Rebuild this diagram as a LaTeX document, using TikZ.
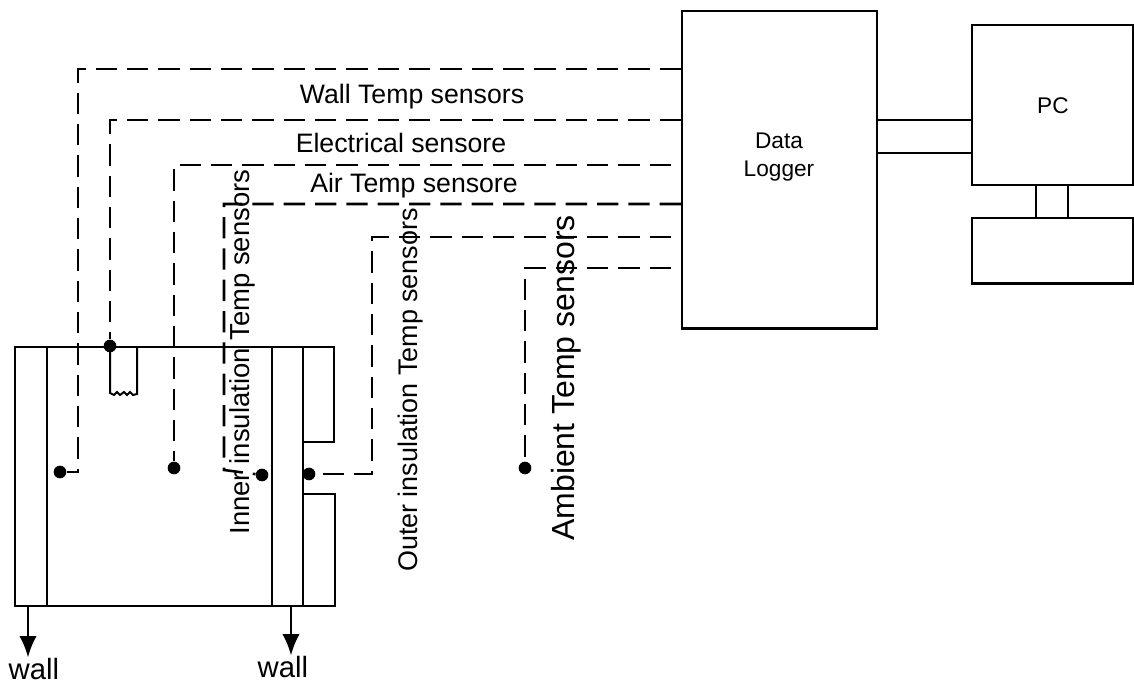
\documentclass[tikz,border=0pt]{standalone}
\usepackage{fontspec}
\setmainfont{Liberation Sans}
\usetikzlibrary{arrows.meta, positioning}

\begin{document}
\begin{tikzpicture}[
  x=0.75pt, y=-0.75pt,
  block/.style={rectangle, draw=black, line width=1.8pt, anchor=north west, inner sep=0pt},
  sensorline/.style={line width=1.9pt, dash pattern=on 16pt off 7.5pt},
  gapfirst/.style={dash phase=16pt},
  link/.style={line width=2pt},
  probe/.style={circle, fill=black, inner sep=0pt, minimum size=9.5pt},
  arrow/.style={-{Latex[length=16pt, width=13pt]}, line width=2pt, shorten >=-3pt},
  caption/.style={font=\fontsize{20}{24}\selectfont},
  upcaption/.style={font=\fontsize{20.6}{24}\selectfont, rotate=90}
]

\useasboundingbox (0,0) rectangle (1134,685);

%% --- Logger and PC ---
\node[block, minimum width=146pt, minimum height=238pt] (logger) at (681,10) {};
\node[font=\fontsize{17}{21.5}\selectfont, align=center] (loggertext) at (779,157) {Data\\Logger};
\node[block, minimum width=121pt, minimum height=120pt, text depth=-6pt,
      font=\fontsize{17}{20}\selectfont] (pc) at (971,24) {PC};
\node[block, minimum width=121pt, minimum height=49pt] (monitor) at (971,217) {};

\draw[link] (logger.east |- 0,120) -- (pc.west |- 0,120);
\draw[link] (logger.east |- 0,153) -- (pc.west |- 0,153);
\draw[link] (pc.south -| 1036,0) -- (monitor.north -| 1036,0);
\draw[link] (pc.south -| 1068,0) -- (monitor.north -| 1068,0);

%% --- Tank ---
\node[block, minimum width=216pt, minimum height=194pt] (tank) at (14,346) {};
\node[block, minimum width=24pt, minimum height=194pt] (leftwall) at (14,346) {};
\node[block, minimum width=23pt, minimum height=194pt] (rightwall) at (271,346) {};
\node[block, minimum width=23pt, minimum height=71pt] (uppercase) at (302,346) {};
\node[block, minimum width=24pt, minimum height=84pt] (lowercase) at (302,493) {};

\draw[line width=1.5pt] (110,346) -- (110,393) -- (114,395) -- (117,392) -- (120,395)
  -- (124,392) -- (127,395) -- (130,392) -- (133,395) -- (137,394) -- (137,346);

%% --- Probes ---
\node[probe] (walldot)    at (60,472)  {};
\node[probe] (elecdot)    at (110,346) {};
\node[probe] (airdot)     at (174,468) {};
\node[probe] (innerdot)   at (262,475) {};
\node[probe] (outerdot)   at (309,474) {};
\node[probe] (ambientdot) at (525,468) {};

\coordinate (wallbend)  at (78,472);
\coordinate (innerbend) at (224,470);
\coordinate (outerbend) at (372,474);

%% --- Sensor lines ---
\draw[sensorline] (logger.west |- 0,69)  -| (wallbend) -- (walldot);
\draw[sensorline] (logger.west |- 0,120) -| (elecdot);
\draw[sensorline, gapfirst] (logger.west |- 0,165) -| (airdot);
\draw[sensorline] (logger.west |- 0,204) -| (innerbend) -- (innerdot);
\draw[sensorline, gapfirst] (logger.west |- 0,237) -| (outerbend) -- (outerdot);
\draw[sensorline, gapfirst] (logger.west |- 0,268) -| (ambientdot);

%% --- Labels ---
\node[caption] (walltemp) at (412,97)  {Wall Temp sensors};
\node[caption] (electemp) at (401,143) {Electrical sensore};
\node[caption] (airtemp)  at (414,186) {Air Temp sensore};
\node[upcaption] (innertemp) at (242,352) {Inner insulation Temp sensors};
\node[upcaption, font=\fontsize{20.2}{24}\selectfont] (outertemp) at (411,390) {Outer insulation Temp sensors};
\node[upcaption, font=\fontsize{24}{28}\selectfont] (ambienttemp) at (566,378) {Ambient Temp sensors};

%% --- Wall arrows ---
\node[font=\fontsize{22}{26}\selectfont] (wallleft)  at (34,669)  {wall};
\node[font=\fontsize{22}{26}\selectfont] (wallright) at (283,667) {wall};
\draw[arrow] (tank.south -| 28,0)  -- (wallleft.north -| 28,0);
\draw[arrow] (tank.south -| 291,0) -- (wallright.north -| 291,0);

\end{tikzpicture}
\end{document}
